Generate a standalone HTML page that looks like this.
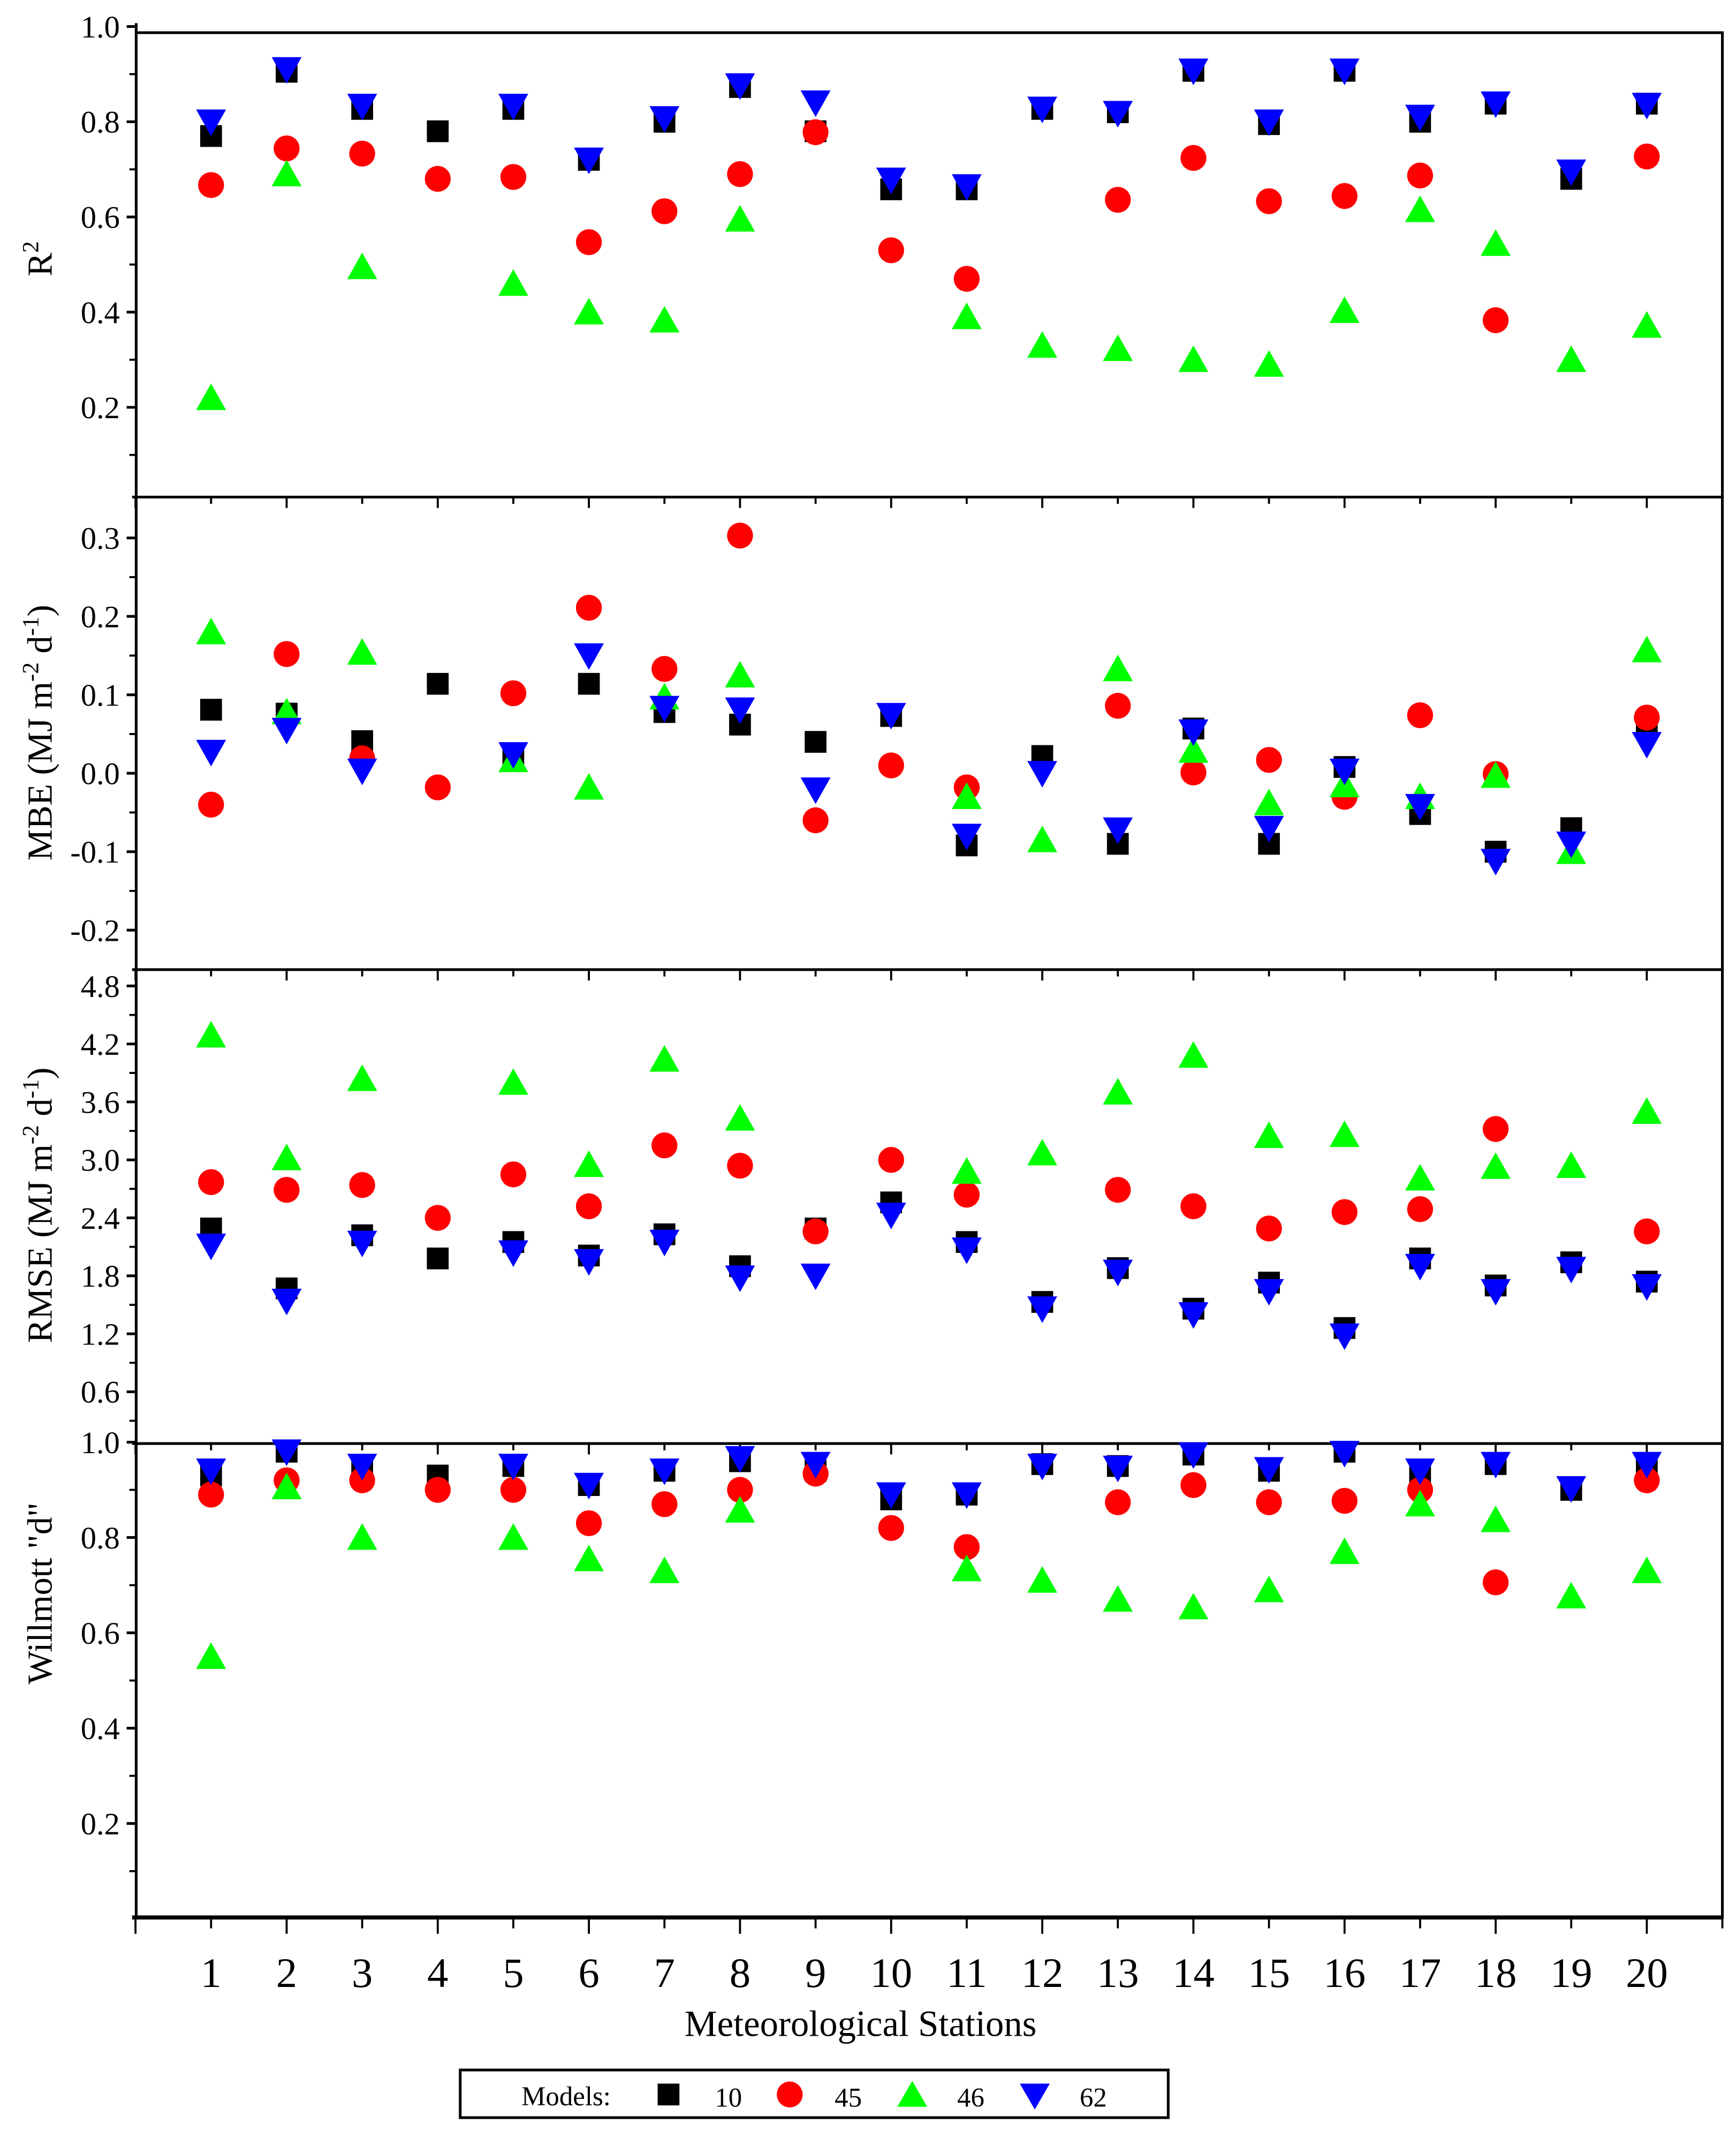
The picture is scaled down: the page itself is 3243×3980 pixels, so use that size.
<!DOCTYPE html>
<html><head><meta charset="utf-8"><style>
html,body{margin:0;padding:0;background:#fff}
svg{display:block}
text{font-family:"Liberation Serif",serif;fill:#000}
</style></head><body>
<svg id="chart" width="3243" height="3980" viewBox="0 0 1275 1564.8" xmlns="http://www.w3.org/2000/svg">
<g id="frame"></g>
<g id="marks"></g>
<text x="632" y="1495" font-size="27" text-anchor="middle">Meteorological Stations</text>
<g>
<rect x="338" y="1520" width="520" height="35" fill="#fff" stroke="#000" stroke-width="2"/>
<text x="383" y="1546" font-size="20">Models:</text>
<rect x="483" y="1530" width="16" height="16" fill="#000"/>
<text x="525" y="1547" font-size="20">10</text>
<circle cx="580" cy="1538" r="9.5" fill="#f00"/>
<text x="613" y="1547" font-size="20">45</text>
<polygon points="670,1528 681,1547 659,1547" fill="#0f0"/>
<text x="703" y="1547" font-size="20">46</text>
<polygon points="749,1530 771,1530 760,1549" fill="#00f"/>
<text x="793" y="1547" font-size="20">62</text>
</g>
</svg>
<script>
const stations = [1,2,3,4,5,6,7,8,9,10,11,12,13,14,15,16,17,18,19,20];
const r2_m10 = [0.77,0.905,0.827,0.78,0.827,0.72,0.80,0.873,0.78,0.658,0.658,0.827,0.82,0.907,0.795,0.907,0.80,0.838,0.68,0.838];
const r2_m45 = [0.667,0.744,0.733,0.68,0.684,0.547,0.612,0.69,0.778,0.53,0.47,null,0.636,0.724,0.633,0.644,0.687,0.383,null,0.727];
const r2_m46 = [0.22,0.69,0.495,null,0.46,0.40,0.383,0.595,null,null,0.39,0.33,0.323,0.30,0.29,0.403,0.615,0.544,0.30,0.372];
const r2_m62 = [0.80,0.91,0.833,null,0.833,0.72,0.807,0.876,0.84,0.678,0.664,0.827,0.818,0.907,0.80,0.907,0.81,0.838,0.695,0.835];
const mbe_m10 = [0.081,0.076,0.041,0.114,0.02,0.114,0.078,0.062,0.04,0.073,-0.092,0.022,-0.09,0.057,-0.09,0.008,-0.052,-0.1,-0.07,0.064];
const mbe_m45 = [-0.04,0.152,0.019,-0.018,0.102,0.211,0.133,0.303,-0.06,0.01,-0.018,null,0.086,0.001,0.017,-0.03,0.074,-0.001,null,0.071];
const mbe_m46 = [0.18,0.078,0.154,null,0.017,-0.018,0.097,0.125,null,null,-0.03,-0.085,0.133,0.029,-0.038,-0.015,-0.03,-0.003,-0.1,0.157];
const mbe_m62 = [0.027,0.055,0.003,null,0.024,0.15,0.083,0.081,-0.021,0.074,-0.08,0.0,-0.072,0.053,-0.07,0.003,-0.042,-0.112,-0.09,0.037];
const rmse_m10 = [2.29,1.67,2.22,1.98,2.15,2.01,2.23,1.9,2.29,2.56,2.15,1.53,1.88,1.46,1.73,1.26,1.98,1.7,1.94,1.74];
const rmse_m45 = [2.77,2.69,2.74,2.4,2.85,2.52,3.15,2.94,2.26,3.0,2.64,null,2.69,2.52,2.29,2.46,2.49,3.32,null,2.26];
const rmse_m46 = [4.29,3.02,3.84,null,3.8,2.95,4.04,3.43,null,null,2.88,3.07,3.7,4.08,3.25,3.26,2.81,2.93,2.94,3.5];
const rmse_m62 = [2.11,1.54,2.14,null,2.04,1.95,2.15,1.78,1.8,2.43,2.07,1.46,1.84,1.4,1.64,1.18,1.9,1.64,1.87,1.69];
const d_m10 = [0.93,0.98,0.95,0.93,0.95,0.91,0.94,0.96,0.94,0.88,0.89,0.954,0.95,0.974,0.94,0.98,0.937,0.954,0.90,0.95];
const d_m45 = [0.89,0.92,0.92,0.90,0.90,0.83,0.87,0.90,0.934,0.82,0.78,null,0.874,0.91,0.874,0.877,0.90,0.706,null,0.92];
const d_m46 = [0.55,0.906,0.80,null,0.80,0.755,0.73,0.857,null,null,0.734,0.71,0.67,0.654,0.69,0.77,0.87,0.837,0.677,0.73];
const d_m62 = [0.94,0.98,0.95,null,0.95,0.91,0.94,0.966,0.954,0.89,0.89,0.95,0.946,0.974,0.943,0.977,0.94,0.954,0.903,0.954];
const r2Ticks = ["1.0","0.8","0.6","0.4","0.2"];
const mbeTicks = ["0.3","0.2","0.1","0.0","-0.1","-0.2"];
const rmseTicks = ["4.8","4.2","3.6","3.0","2.4","1.8","1.2","0.6"];
const dTicks = ["1.0","0.8","0.6","0.4","0.2"];

const NS="http://www.w3.org/2000/svg";
const L=100,R=1265;
function xS(s){return 99.5+55.5*s;}
function mk(tag,attrs,parent){const e=document.createElementNS(NS,tag);for(const k in attrs)e.setAttribute(k,attrs[k]);parent.appendChild(e);return e;}
const frame=document.getElementById('frame'), marks=document.getElementById('marks');

const panels=[
 {key:'r2',top:24,bottom:365,v0:1.0,y0:19.5,pxPerUnit:349.5,ticks:r2Ticks,minorStep:0.1,vmin:0.01,title:'R2',tc:190,series:[r2_m10,r2_m45,r2_m46,r2_m62]},
 {key:'mbe',top:365,bottom:712,v0:0.3,y0:395,pxPerUnit:576,ticks:mbeTicks,minorStep:0.05,vmin:-0.25,title:'MBE',tc:538,series:[mbe_m10,mbe_m45,mbe_m46,mbe_m62]},
 {key:'rmse',top:712,bottom:1060,v0:4.8,y0:724,pxPerUnit:70.95,ticks:rmseTicks,minorStep:0.3,vmin:0.07,title:'RMSE',tc:885,series:[rmse_m10,rmse_m45,rmse_m46,rmse_m62]},
 {key:'d',top:1060,bottom:1408,v0:1.0,y0:1059,pxPerUnit:350,ticks:dTicks,minorStep:0.1,vmin:0.01,title:'d',tc:1170,series:[d_m10,d_m45,d_m46,d_m62]}
];

// frame
const fr=mk('rect',{x:L,y:24,width:R-L,height:1408-24,fill:'none',stroke:'#000','stroke-width':2},frame);


mk('line',{x1:L,y1:17,x2:L,y2:24,stroke:'#000','stroke-width':2},frame);

panels.forEach(p=>{
  const yS=v=>p.y0+(p.v0-v)*p.pxPerUnit;
  const sep=mk('line',{x1:L-3,y1:p.bottom,x2:R,y2:p.bottom,stroke:'#000','stroke-width':p.key==='d'?3:2},frame);
  
  
  // x ticks
  for(let s=0;s<=21;s++){
    const len=(s%2===0)?(p.key==='d'?12:8):(p.key==='d'?8:5);
    mk('line',{x1:xS(s),y1:p.bottom,x2:xS(s),y2:p.bottom+len,stroke:'#000','stroke-width':1.5},frame);
  }
  // y ticks
  p.ticks.forEach((lab,i)=>{
    const v=parseFloat(lab), y=yS(v);
    mk('line',{x1:L-7,y1:y,x2:L,y2:y,stroke:'#000','stroke-width':2},frame);
    const t=mk('text',{x:88,y:y+8,'font-size':23,'text-anchor':'end'},frame);
    t.textContent=lab;
    
    
    const mv=v-p.minorStep, my=yS(mv);
    if(my<p.bottom-3) mk('line',{x1:L-5,y1:my,x2:L,y2:my,stroke:'#000','stroke-width':1.5},frame);
  });
  // y title
  const t=mk('text',{x:0,y:0,'font-size':26,'text-anchor':'middle',transform:`translate(38,${p.tc}) rotate(-90)`},frame);
  
  
  if(p.key==='r2'){t.innerHTML='R<tspan font-size="17" dy="-10">2</tspan>';}
  else if(p.key==='d'){t.textContent='Willmott "d"';}
  else {t.innerHTML=p.title+' (MJ m<tspan font-size="17" dy="-10">-2</tspan><tspan dy="10"> d</tspan><tspan font-size="17" dy="-10">-1</tspan><tspan dy="10">)</tspan>';}
  // markers
  const colors=['#000','#f00','#0f0','#00f'], names=['model-10','model-45','model-46','model-62'];
  p.series.forEach((arr,k)=>{
    arr.forEach((v,i)=>{
      if(v===null)return;
      const cx=xS(stations[i]), cy=yS(v);
      let e;
      if(k===0) e=mk('rect',{x:cx-8,y:cy-8,width:16,height:16,fill:colors[k]},marks);
      else if(k===1) e=mk('ellipse',{cx:cx,cy:cy,rx:9.5,ry:9.5,fill:colors[k]},marks);
      else if(k===2) e=mk('polygon',{points:`${cx},${cy-10.5} ${cx+11},${cy+9} ${cx-11},${cy+9}`,fill:colors[k]},marks);
      else e=mk('polygon',{points:`${cx-11},${cy-9} ${cx+11},${cy-9} ${cx},${cy+10.5}`,fill:colors[k]},marks);
      
      
    });
  });
});
// x tick labels
stations.forEach(s=>{
  const t=mk('text',{x:xS(s),y:1459,'font-size':31,'text-anchor':'middle'},frame);
  t.textContent=String(s);
  
  
});
</script>
</body></html>
